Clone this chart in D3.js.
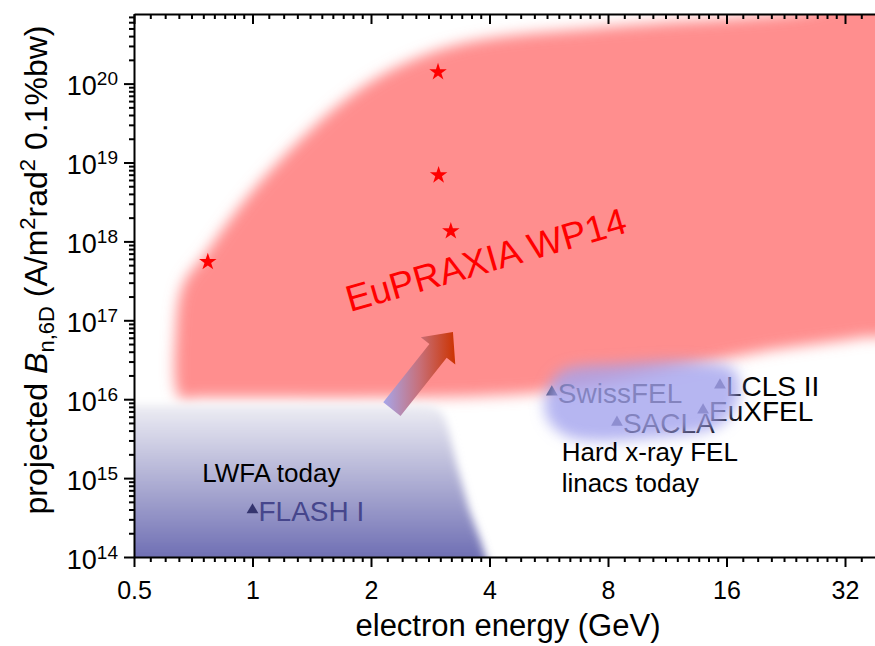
<!DOCTYPE html>
<meta charset="utf-8">
<script src="https://d3js.org/d3.v7.min.js"></script>
<style>
  body { margin: 0; background: #fff; }
  text { font-family: "Liberation Sans", Arial, sans-serif; }
</style>
<div id="chart"></div>
<script>

// energies in GeV, brightness B_n,6D in A/m^2 rad^2 0.1%bw
var xTicks = [0.5, 1, 2, 4, 8, 16, 32];
var yExps = [14, 15, 16, 17, 18, 19, 20];

// EuPRAXIA working points (stars)
var starE = [0.77, 2.96, 2.97, 3.19];
var starB = [5.5e17, 1.4e20, 6.9e18, 1.35e18];

// existing facilities (triangles)
var facNames = ["FLASH I", "SwissFEL", "SACLA", "EuXFEL", "LCLS II"];
var facE = [1.0, 5.76, 8.43, 13.95, 15.4];
var facB = [3.95e14, 1.23e16, 5.1e15, 7.3e15, 1.51e16];

// outline of the EuPRAXIA region
var redE = [0.654, 0.639, 0.666, 0.757, 0.957, 1.245, 1.718, 2.33, 3.45, 7.96, 24.3, 44,
            44, 35, 19.5, 10.8, 6.04, 3.78, 0.735];
var redB = [1.05e16, 7.5e16, 2.8e17, 6.8e17, 3.35e18, 1.44e19, 6.2e19, 1.62e20, 3.27e20, 5.2e20, 7.85e20, 1.2e21,
            7.6e16, 6e16, 4e16, 2.2e16, 1.3e16, 1.1e16, 1.05e16];

// outline of today's LWFA region
var lwfaE = [0.4, 0.4, 2.55, 2.8, 2.97, 3.07, 3.15, 3.3, 3.55, 3.8, 4.0, 4.1];
var lwfaB = [5e13, 8.5e15, 8.5e15, 8.3e15, 7.5e15, 6e15, 4e15, 1.5e15, 4e14, 1.6e14, 7e13, 5e13];

// outline of the hard x-ray FEL linac region
var felE = [5.53, 6.04, 8.58, 13.7, 16.8, 17.1, 15.4, 10.2, 6.4, 5.63];
var felB = [9.8e15, 2.2e16, 2.8e16, 2.95e16, 2.3e16, 9.8e15, 4.7e15, 3.2e15, 3.3e15, 5.5e15];

// arrow LWFA -> EuPRAXIA
var arrowFrom = [2.26, 7.5e15];
var arrowTo = [3.23, 7.1e16];

var width = 875, height = 646;
var margin = {top: 14, right: 0, bottom: 89, left: 134};

var svg = d3.select("#chart").append("svg")
    .attr("width", width)
    .attr("height", height);

var x = d3.scaleLog().base(2)
    .domain([0.5, 0.5 * Math.pow(2, (width - margin.left) / 118.5)])
    .range([margin.left, width - margin.right]);
var y = d3.scaleLog()
    .domain([1e14, Math.pow(10, 14 + (height - margin.bottom - margin.top) / 78.9)])
    .range([height - margin.bottom, margin.top]);

var defs = svg.append("defs");
defs.append("clipPath").attr("id", "plot")
  .append("rect")
    .attr("x", margin.left).attr("y", margin.top)
    .attr("width", width - margin.left - margin.right)
    .attr("height", height - margin.top - margin.bottom);

function blur(id, s) {
  defs.append("filter").attr("id", id)
      .attr("x", "-20%").attr("y", "-20%").attr("width", "140%").attr("height", "140%")
    .append("feGaussianBlur").attr("stdDeviation", s);
}
blur("blurRed", 7);
blur("blurFel", 7);
blur("blurLwfa", 4);

var lg = defs.append("linearGradient").attr("id", "lwfaGrad")
    .attr("x1", 0).attr("x2", 0).attr("y1", 0).attr("y2", 1);
lg.append("stop").attr("offset", "0%").attr("stop-color", "#eeeef4");
lg.append("stop").attr("offset", "100%").attr("stop-color", "#5c5caa");

var plot = svg.append("g").attr("clip-path", "url(#plot)");

var area = d3.line()
    .x(function(d) { return x(d[0]); })
    .y(function(d) { return y(d[1]); })
    .curve(d3.curveCatmullRomClosed);

// EuPRAXIA region
plot.append("path")
    .datum(d3.zip(redE, redB))
    .attr("d", area)
    .attr("fill", "#ff8e8e")
    .attr("filter", "url(#blurRed)");

// LWFA region
plot.append("path")
    .datum(d3.zip(lwfaE, lwfaB))
    .attr("d", d3.line()
      .x(function(d) { return x(d[0]); })
      .y(function(d) { return y(d[1]); }))
    .attr("fill", "url(#lwfaGrad)")
    .attr("filter", "url(#blurLwfa)");

// arrow
var p0 = [x(arrowFrom[0]), y(arrowFrom[1])], p1 = [x(arrowTo[0]), y(arrowTo[1])];
var dx = p1[0] - p0[0], dy = p1[1] - p0[1], len = Math.sqrt(dx * dx + dy * dy);
var ux = dx / len, uy = dy / len, nx = -uy, ny = ux;
var hw = 11, hh = 22, hl = 24;
var bx = p1[0] - ux * hl, by = p1[1] - uy * hl;
var arrowPts = [
  [p0[0] + nx * hw, p0[1] + ny * hw],
  [bx + nx * hw, by + ny * hw],
  [bx + nx * hh, by + ny * hh],
  p1,
  [bx - nx * hh, by - ny * hh],
  [bx - nx * hw, by - ny * hw],
  [p0[0] - nx * hw, p0[1] - ny * hw]
];
var ag = defs.append("linearGradient").attr("id", "arrowGrad")
    .attr("gradientUnits", "userSpaceOnUse")
    .attr("x1", d3.min(arrowPts, function(d) { return d[0]; }))
    .attr("x2", d3.max(arrowPts, function(d) { return d[0]; }))
    .attr("y1", 0).attr("y2", 0);
ag.append("stop").attr("offset", "0%").attr("stop-color", "#a6a6ea");
ag.append("stop").attr("offset", "50%").attr("stop-color", "#c7707a");
ag.append("stop").attr("offset", "100%").attr("stop-color", "#cc3300");
plot.append("path")
    .attr("d", "M" + arrowPts.join("L") + "Z")
    .attr("fill", "url(#arrowGrad)");

// facilities
var facs = d3.range(facNames.length).map(function(i) {
  return {name: facNames[i], e: facE[i], b: facB[i]};
});
var lwfaFacs = facs.filter(function(d) { return d.name === "FLASH I"; });
var felFacs = facs.filter(function(d) { return d.name !== "FLASH I"; });

var tri = d3.symbol().type(d3.symbolTriangle).size(60);

plot.selectAll(".felMark").data(felFacs).enter().append("path")
    .attr("class", "felMark")
    .attr("d", tri)
    .attr("transform", function(d) { return "translate(" + x(d.e) + "," + y(d.b) + ")"; })
    .attr("fill", "#3a3a58");
plot.selectAll(".felLabel").data(felFacs).enter().append("text")
    .attr("class", "felLabel")
    .attr("x", function(d) { return x(d.e) + 6; })
    .attr("y", function(d) { return y(d.b) + 11; })
    .attr("font-size", 28)
    .attr("fill", "#000")
    .text(function(d) { return d.name; });

// FEL linac region, translucent over its labels
plot.append("path")
    .datum(d3.zip(felE, felB))
    .attr("d", area)
    .attr("fill", "#a4a4ee")
    .attr("fill-opacity", 0.8)
    .attr("filter", "url(#blurFel)");

plot.selectAll(".lwfaMark").data(lwfaFacs).enter().append("path")
    .attr("class", "lwfaMark")
    .attr("d", tri)
    .attr("transform", function(d) { return "translate(" + x(d.e) + "," + y(d.b) + ")"; })
    .attr("fill", "#34346e");
plot.selectAll(".lwfaLabel").data(lwfaFacs).enter().append("text")
    .attr("class", "lwfaLabel")
    .attr("x", function(d) { return x(d.e) + 6; })
    .attr("y", function(d) { return y(d.b) + 11; })
    .attr("font-size", 28)
    .attr("fill", "#46468c")
    .text(function(d) { return d.name; });

// stars
plot.selectAll(".star").data(d3.zip(starE, starB)).enter().append("path")
    .attr("class", "star")
    .attr("d", d3.symbol().type(d3.symbolStar).size(95))
    .attr("transform", function(d) { return "translate(" + x(d[0]) + "," + y(d[1]) + ")"; })
    .attr("fill", "#ff0000");

// annotations
svg.append("text")
    .attr("transform", "translate(" + x(1.77) + "," + y(1.27e17) + ") rotate(-16)")
    .attr("font-size", 37)
    .attr("fill", "#ff0000")
    .text("EuPRAXIA WP14");

svg.append("text")
    .attr("x", x(0.745)).attr("y", y(8.9e14))
    .attr("font-size", 26)
    .text("LWFA today");

var hard = svg.append("text")
    .attr("x", x(6.1)).attr("y", y(1.65e15))
    .attr("font-size", 26);
hard.append("tspan").attr("x", x(6.1)).text("Hard x-ray FEL");
hard.append("tspan").attr("x", x(6.1)).attr("dy", 31).text("linacs today");

// axes
var x0 = height - margin.bottom;
var xMinor = [];
xTicks.forEach(function(a) {
  for (var k = 1; k < 10; k++) {
    var v = a * (1 + k / 10);
    if (v < x.domain()[1]) xMinor.push(v);
  }
});
var yMinor = [];
yExps.forEach(function(n) {
  for (var k = 2; k < 10; k++) {
    var v = k * Math.pow(10, n);
    if (v < y.domain()[1]) yMinor.push(v);
  }
});

// bottom
svg.append("g")
    .attr("transform", "translate(0," + x0 + ")")
    .call(d3.axisBottom(x).tickValues(xMinor).tickSize(5).tickFormat(""))
    .call(function(g) { g.select(".domain").remove(); });
var xAxis = svg.append("g")
    .attr("transform", "translate(0," + x0 + ")")
    .call(d3.axisBottom(x).tickValues(xTicks).tickSizeInner(10).tickSizeOuter(0).tickPadding(14)
      .tickFormat(d3.format("")));
xAxis.selectAll("text").attr("font-size", 25).attr("fill", "#000")
    .style("font-family", "'Liberation Sans', Arial, sans-serif");

// top (ticks inward)
svg.append("g")
    .attr("transform", "translate(0," + margin.top + ")")
    .call(d3.axisBottom(x).tickValues(xMinor).tickSize(5).tickFormat(""))
    .call(function(g) { g.select(".domain").remove(); });
svg.append("g")
    .attr("transform", "translate(0," + margin.top + ")")
    .call(d3.axisBottom(x).tickValues(xTicks).tickSizeInner(10).tickSizeOuter(0).tickFormat(""));

// left
svg.append("g")
    .attr("transform", "translate(" + margin.left + ",0)")
    .call(d3.axisLeft(y).tickValues(yMinor).tickSize(5).tickFormat(""))
    .call(function(g) { g.select(".domain").remove(); });
var yAxis = svg.append("g")
    .attr("transform", "translate(" + margin.left + ",0)")
    .call(d3.axisLeft(y).tickValues(yExps.map(function(n) { return Math.pow(10, n); }))
      .tickSizeInner(10).tickSizeOuter(0).tickPadding(8).tickFormat(""));
yAxis.selectAll(".tick").append("text")
    .attr("x", -16).attr("dy", "0.42em")
    .attr("text-anchor", "end")
    .attr("font-size", 27)
    .attr("fill", "#000")
    .each(function(d, i) {
      var t = d3.select(this);
      t.append("tspan").text("10");
      t.append("tspan").attr("dy", -10).attr("font-size", 19).text(yExps[i]);
    });

svg.selectAll(".domain, .tick line").attr("stroke", "#000").attr("stroke-width", 2);

// titles
svg.append("text")
    .attr("x", 508)
    .attr("y", 636)
    .attr("text-anchor", "middle")
    .attr("font-size", 31)
    .text("electron energy (GeV)");

var yt = svg.append("text")
    .attr("transform", "translate(47," + 270 + ") rotate(-90)")
    .attr("text-anchor", "middle")
    .attr("font-size", 32);
yt.append("tspan").text("projected ");
yt.append("tspan").attr("font-style", "italic").text("B");
yt.append("tspan").attr("font-size", 22).attr("dy", 7).text("n,6D");
yt.append("tspan").attr("dy", -7).text(" (A/m");
yt.append("tspan").attr("font-size", 22).attr("dy", -12).text("2");
yt.append("tspan").attr("dy", 12).text("rad");
yt.append("tspan").attr("font-size", 22).attr("dy", -12).text("2");
yt.append("tspan").attr("dy", 12).text(" 0.1%bw)");

</script>
